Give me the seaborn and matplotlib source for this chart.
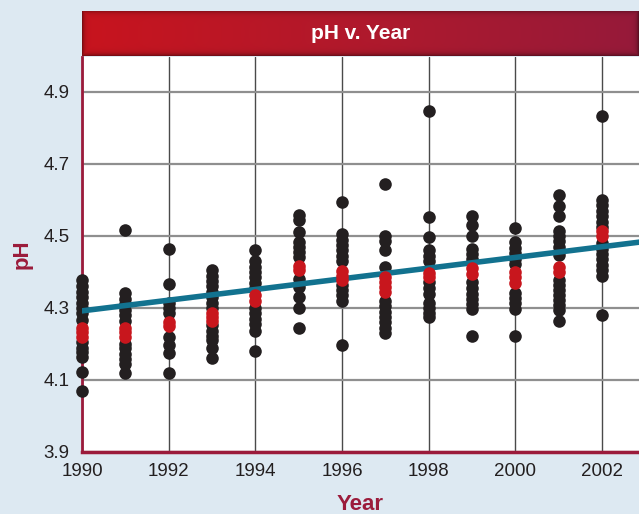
import numpy as np
import pandas as pd
import matplotlib
matplotlib.use("Agg")
import matplotlib.pyplot as plt
import seaborn as sns
from matplotlib.colors import to_rgb

# ---- data -------------------------------------------------------------
years = list(range(1990, 2003))

ph_1990 = [4.378, 4.36, 4.345, 4.33, 4.315, 4.30, 4.285, 4.267, 4.205, 4.19,
           4.178, 4.165, 4.123, 4.07]
ph_1991 = [4.517, 4.342, 4.325, 4.31, 4.295, 4.28, 4.265, 4.20, 4.188, 4.172,
           4.158, 4.145, 4.119]
ph_1992 = [4.465, 4.368, 4.315, 4.30, 4.285, 4.22, 4.198, 4.176, 4.12]
ph_1993 = [4.405, 4.39, 4.375, 4.36, 4.345, 4.33, 4.315, 4.30, 4.252, 4.237,
           4.222, 4.21, 4.19, 4.16]
ph_1994 = [4.46, 4.43, 4.415, 4.40, 4.385, 4.37, 4.355, 4.30, 4.285, 4.27,
           4.255, 4.235, 4.18]
ph_1995 = [4.558, 4.544, 4.512, 4.484, 4.47, 4.456, 4.443, 4.38, 4.359, 4.331,
           4.299, 4.244]
ph_1996 = [4.595, 4.505, 4.49, 4.475, 4.46, 4.445, 4.43, 4.365, 4.35, 4.335,
           4.32, 4.197]
ph_1997 = [4.645, 4.50, 4.485, 4.46, 4.415, 4.32, 4.305, 4.29, 4.275, 4.26,
           4.245, 4.23]
ph_1998 = [4.848, 4.553, 4.498, 4.46, 4.445, 4.43, 4.372, 4.356, 4.34, 4.315,
           4.30, 4.285, 4.274]
ph_1999 = [4.555, 4.53, 4.50, 4.465, 4.45, 4.435, 4.372, 4.356, 4.34, 4.325,
           4.31, 4.296, 4.222]
ph_2000 = [4.523, 4.482, 4.467, 4.452, 4.437, 4.422, 4.342, 4.328, 4.313,
           4.298, 4.222]
ph_2001 = [4.614, 4.584, 4.555, 4.515, 4.50, 4.485, 4.47, 4.448, 4.378, 4.364,
           4.35, 4.336, 4.322, 4.308, 4.294, 4.263]
ph_2002 = [4.834, 4.60, 4.585, 4.57, 4.555, 4.54, 4.525, 4.48, 4.465, 4.45,
           4.435, 4.42, 4.405, 4.39, 4.28]

# annual mean markers (red)
mean_1990 = [4.245, 4.232, 4.22]
mean_1991 = [4.245, 4.232, 4.22]
mean_1992 = [4.262, 4.25]
mean_1993 = [4.285, 4.275, 4.265]
mean_1994 = [4.335, 4.32]
mean_1995 = [4.418, 4.405]
mean_1996 = [4.403, 4.39, 4.378]
mean_1997 = [4.386, 4.372, 4.358, 4.344]
mean_1998 = [4.398, 4.386]
mean_1999 = [4.41, 4.395]
mean_2000 = [4.40, 4.385, 4.37]
mean_2001 = [4.415, 4.40]
mean_2002 = [4.515, 4.50]

# fitted trend
trend_years = [1990, 2003]
trend_ph = [4.292, 4.485]

x_ticks = [1990, 1992, 1994, 1996, 1998, 2000, 2002]
y_ticks = [3.9, 4.1, 4.3, 4.5, 4.7, 4.9]

sample_lists = [ph_1990, ph_1991, ph_1992, ph_1993, ph_1994, ph_1995, ph_1996,
                ph_1997, ph_1998, ph_1999, ph_2000, ph_2001, ph_2002]
mean_lists = [mean_1990, mean_1991, mean_1992, mean_1993, mean_1994, mean_1995,
              mean_1996, mean_1997, mean_1998, mean_1999, mean_2000, mean_2001,
              mean_2002]

samples = pd.DataFrame([(y, v) for y, vals in zip(years, sample_lists) for v in vals],
                       columns=["Year", "pH"])
means = pd.DataFrame([(y, v) for y, vals in zip(years, mean_lists) for v in vals],
                     columns=["Year", "pH"])
trend = pd.DataFrame({"Year": trend_years, "pH": trend_ph})

# ---- style ------------------------------------------------------------
BG = "#dde9f2"
MAROON = "#9b1b3b"
DOT = "#231f20"
RED = "#c8161d"
TEAL = "#12728f"

sns.set_style("white")
plt.rcParams["font.family"] = ["Liberation Sans", "DejaVu Sans"]

W, H = 639, 514
fig = plt.figure(figsize=(W / 100, H / 100), dpi=100, facecolor=BG)

left, right, bottom, top = 82, 639, 452, 57
ax = fig.add_axes([left / W, (H - bottom) / H, (right - left) / W, (bottom - top) / H])
ax.set_facecolor("white")

px_per_year = (602 - 82) / 12
px_per_ph = 72 / 0.2
ax.set_xlim(1990, 1990 + (right - left) / px_per_year)
ax.set_ylim(3.9, 3.9 + (bottom - top) / px_per_ph)

# grid
ax.set_axisbelow(True)
ax.set_xticks(x_ticks)
ax.set_yticks(y_ticks)
ax.xaxis.grid(True, color="#4a4a4a", lw=1.0)
ax.yaxis.grid(True, color="#8f8f8f", lw=1.6)
ax.tick_params(length=0, labelsize=13.5, colors="#231f20")
ax.tick_params(axis="x", pad=8)
ax.tick_params(axis="y", pad=9)
ax.set_yticklabels([f"{v:.1f}" for v in y_ticks])

for side in ("top", "right"):
    ax.spines[side].set_visible(False)
ax.spines["left"].set_color(MAROON)
ax.spines["left"].set_linewidth(2.0)
ax.spines["bottom"].set_color(MAROON)
ax.spines["bottom"].set_linewidth(2.5)

# points and trend
sns.scatterplot(data=samples, x="Year", y="pH", color=DOT, s=82, linewidth=0,
                ax=ax, zorder=3, legend=False, clip_on=False)
sns.lineplot(data=trend, x="Year", y="pH", color=TEAL, lw=4.0, ax=ax, zorder=4)
sns.scatterplot(data=means, x="Year", y="pH", color=RED, s=82, linewidth=0,
                ax=ax, zorder=5, legend=False, clip_on=False)

ax.set_xlabel("Year", fontsize=16, fontweight="bold", color=MAROON, va="center")
ax.xaxis.set_label_coords(0.5, -(504 - bottom) / (bottom - top))
ax.set_ylabel("pH", fontsize=16, fontweight="bold", color=MAROON, va="center")
ax.yaxis.set_label_coords(-(left - 22) / (right - left), 0.5)

# title banner with a red gradient and darkened rim
bar_top, bar_bot = 11, 56
tax = fig.add_axes([left / W, (H - bar_bot) / H, (right - left) / W, (bar_bot - bar_top) / H])
nh, nw = bar_bot - bar_top, right - left
c_left = np.array(to_rgb("#c8141e"))
c_mid = np.array(to_rgb("#b0192c"))
c_right = np.array(to_rgb("#961a3a"))
t = np.linspace(0, 1, nw)[None, :, None]
row = np.where(t < 0.5, c_left + (c_mid - c_left) * (t / 0.5),
               c_mid + (c_right - c_mid) * ((t - 0.5) / 0.5))
img = np.repeat(row, nh, axis=0)
yy, xx = np.mgrid[0:nh, 0:nw]
d = np.minimum.reduce([yy, nh - 1 - yy, xx, nw - 1 - xx]).astype(float)
shade = 1 - 0.38 * np.exp(-d / 2.2)
img = img * shade[:, :, None]
tax.imshow(img, aspect="auto", extent=(0, 1, 0, 1), interpolation="bilinear")
tax.set_xlim(0, 1)
tax.set_ylim(0, 1)
tax.axis("off")
tax.text(0.5, 0.5, "pH v. Year", color="white", fontsize=15, fontweight="bold",
         ha="center", va="center")

fig.savefig("out.png", dpi=100, facecolor=BG)
